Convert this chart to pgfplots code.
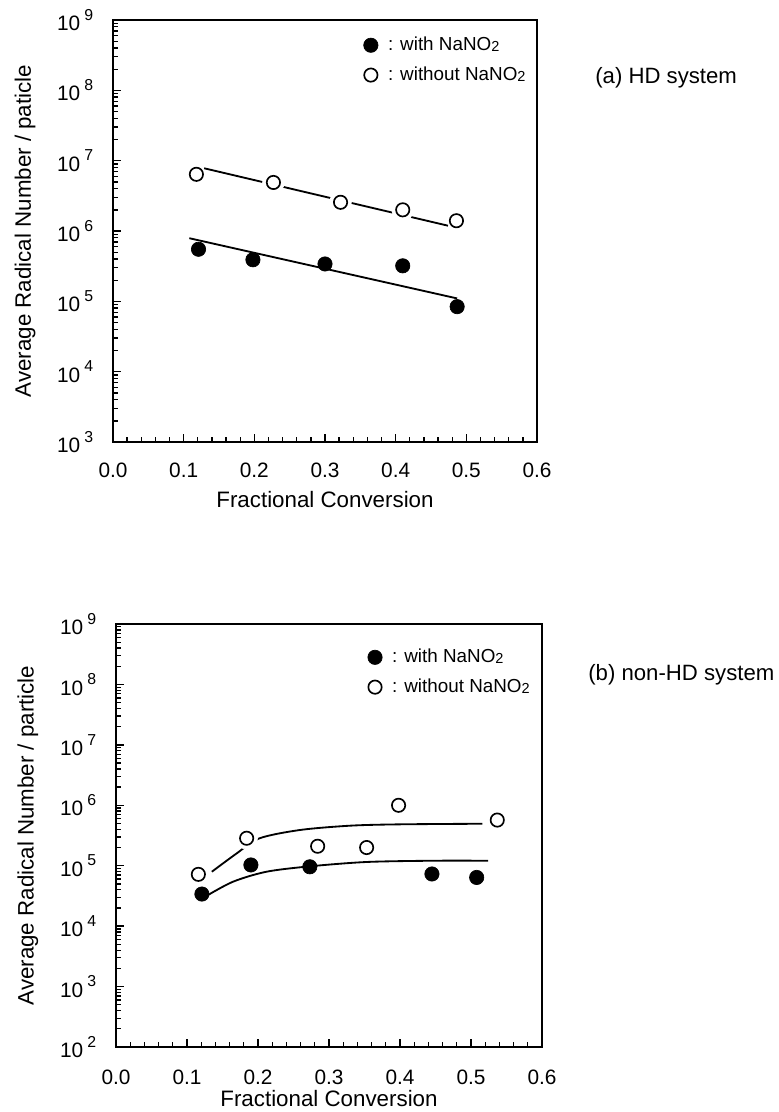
\documentclass[border=0pt]{standalone}
\usepackage{fontspec}
\setmainfont{Liberation Sans}
\usepackage{pgfplots}
\pgfplotsset{compat=1.18}

\newcommand{\tp}[1]{10\hspace{2.4pt}\raisebox{0.5em}{\fontsize{9.5}{9.5}\selectfont #1}}
\newcommand{\nano}{NaNO\raisebox{-0.05em}{\fontsize{8.7}{8.7}\selectfont 2}}

\pgfplotsset{
  filled/.style={only marks, mark=*, mark size=4.3pt, black,
      legend image code/.code={\path (0pt,0pt) (13.5pt,0pt); \draw[#1] plot coordinates {(5.7pt,0pt)};}},
  open/.style={only marks, mark=o, mark size=4pt, black, line width=1pt,
      mark options={fill=white},
      legend image code/.code={\path (0pt,0pt) (13.5pt,0pt); \draw[#1] plot coordinates {(5.7pt,0pt)};}},
  fit/.style={black, line width=1.1pt, no marks},
  common/.style={
    scale only axis,
    xmin=0, xmax=0.6,
    xtick={0,0.1,0.2,0.3,0.4,0.5,0.6},
    xticklabels={0.0,0.1,0.2,0.3,0.4,0.5,0.6},
    minor x tick num=4,
    tick pos=left,
    tick align=inside,
    major tick length=5pt, minor tick length=2.8pt,
    every tick/.style={black, line width=0.8pt},
    axis line style={line width=1.1pt},
    tick label style={font=\fontsize{12.5}{14}\selectfont},
    yticklabel style={xshift=-8.4pt},
    label style={font=\fontsize{13.4}{15}\selectfont},
    xlabel={Fractional Conversion},
    legend cell align=left,
    legend style={draw=none, fill=none, inner sep=0pt, row sep=4.2pt,
      font=\fontsize{11.3}{13}\selectfont},
  },
}

\begin{document}
\begin{tikzpicture}
\useasboundingbox (0,0) rectangle (466.8pt,-667.2pt);

% ---------- (a) HD system ----------
\begin{axis}[
  ymode=log,
  common,
  at={(67.8pt,-265.2pt)}, anchor=south west,
  width=254.4pt, height=253.2pt,
  ymin=1e3, ymax=1e9,
  ytick={1e3,1e4,1e5,1e6,1e7,1e8,1e9},
  minor ytick={2e3,3e3,4e3,5e3,6e3,7e3,8e3,9e3,
               2e4,3e4,4e4,5e4,6e4,7e4,8e4,9e4,
               2e5,3e5,4e5,5e5,6e5,7e5,8e5,9e5,
               2e6,3e6,4e6,5e6,6e6,7e6,8e6,9e6,
               2e7,3e7,4e7,5e7,6e7,7e7,8e7,9e7,
               2e8,3e8,4e8,5e8,6e8,7e8,8e8,9e8},
  yticklabels={\tp{3},\tp{4},\tp{5},\tp{6},\tp{7},\tp{8},\tp{9}},
  xticklabel style={yshift=-9.3pt},
  ylabel={Average Radical Number / paticle},
  ylabel style={at={(axis description cs:-0.2075,0.5)}, anchor=center},
  xlabel style={at={(axis description cs:0.5,-0.137)}, anchor=center},
  legend style={at={(axis description cs:0.583,0.968)}, anchor=north west},
]
\addplot[fit, forget plot] coordinates {(0.108,7.9e5) (0.487,1.1e5)};
\addplot[fit, forget plot] coordinates {(0.129,7.8e6) (0.474,1.19e6)};
\addplot[filled] coordinates {(0.121,5.5e5) (0.198,3.9e5) (0.300,3.4e5) (0.410,3.2e5) (0.487,8.4e4)};
\addlegendentry{: with \nano}
\addplot[only marks, mark=*, mark size=6.5pt, white, forget plot] coordinates {(0.227,4.9e6) (0.322,2.56e6) (0.410,2.0e6)};
\addplot[open] coordinates {(0.118,6.4e6) (0.227,4.9e6) (0.322,2.56e6) (0.410,2.0e6) (0.486,1.4e6)};
\addlegendentry{: without \nano}
\end{axis}

\node[anchor=west, font=\fontsize{13.3}{15}\selectfont, inner sep=0pt] at (357pt,-46.8pt) {(a) HD system};

% ---------- (b) non-HD system ----------
\begin{axis}[
  ymode=log,
  common,
  at={(69.6pt,-628.2pt)}, anchor=south west,
  width=255.6pt, height=253.8pt,
  ymin=1e2, ymax=1e9,
  ytick={1e2,1e3,1e4,1e5,1e6,1e7,1e8,1e9},
  minor ytick={2e2,3e2,4e2,5e2,6e2,7e2,8e2,9e2,
               2e3,3e3,4e3,5e3,6e3,7e3,8e3,9e3,
               2e4,3e4,4e4,5e4,6e4,7e4,8e4,9e4,
               2e5,3e5,4e5,5e5,6e5,7e5,8e5,9e5,
               2e6,3e6,4e6,5e6,6e6,7e6,8e6,9e6,
               2e7,3e7,4e7,5e7,6e7,7e7,8e7,9e7,
               2e8,3e8,4e8,5e8,6e8,7e8,8e8,9e8},
  yticklabels={\tp{2},\tp{3},\tp{4},\tp{5},\tp{6},\tp{7},\tp{8},\tp{9}},
  xticklabel style={yshift=-10.5pt},
  ylabel={Average Radical Number / particle},
  ylabel style={at={(axis description cs:-0.2067,0.5)}, anchor=center},
  xlabel style={at={(axis description cs:0.5,-0.121)}, anchor=center},
  legend style={at={(axis description cs:0.583,0.949)}, anchor=north west},
]
\addplot[fit, smooth, forget plot] coordinates {(0.128,3.19e4) (0.165,5.45e4) (0.212,7.96e4) (0.273,9.77e4) (0.353,1.153e5) (0.447,1.21e5) (0.524,1.21e5)};
\addplot[fit, smooth, forget plot] coordinates {(0.135,7.96e4) (0.170,1.60e5) (0.202,2.84e5) (0.259,3.90e5) (0.330,4.60e5) (0.400,4.84e5) (0.516,4.95e5)};
\addplot[filled] coordinates {(0.121,3.4e4) (0.190,1.03e5) (0.273,9.6e4) (0.445,7.3e4) (0.508,6.4e4)};
\addlegendentry{: with \nano}
\addplot[only marks, mark=*, mark size=6.5pt, white, forget plot] coordinates {(0.184,2.85e5)};
\addplot[open] coordinates {(0.116,7.2e4) (0.184,2.85e5) (0.284,2.1e5) (0.353,2.0e5) (0.398,1.0e6) (0.537,5.7e5)};
\addlegendentry{: without \nano}
\end{axis}

\node[anchor=west, font=\fontsize{13.3}{15}\selectfont, inner sep=0pt] at (352.8pt,-405pt) {(b) non-HD system};
\end{tikzpicture}
\end{document}
